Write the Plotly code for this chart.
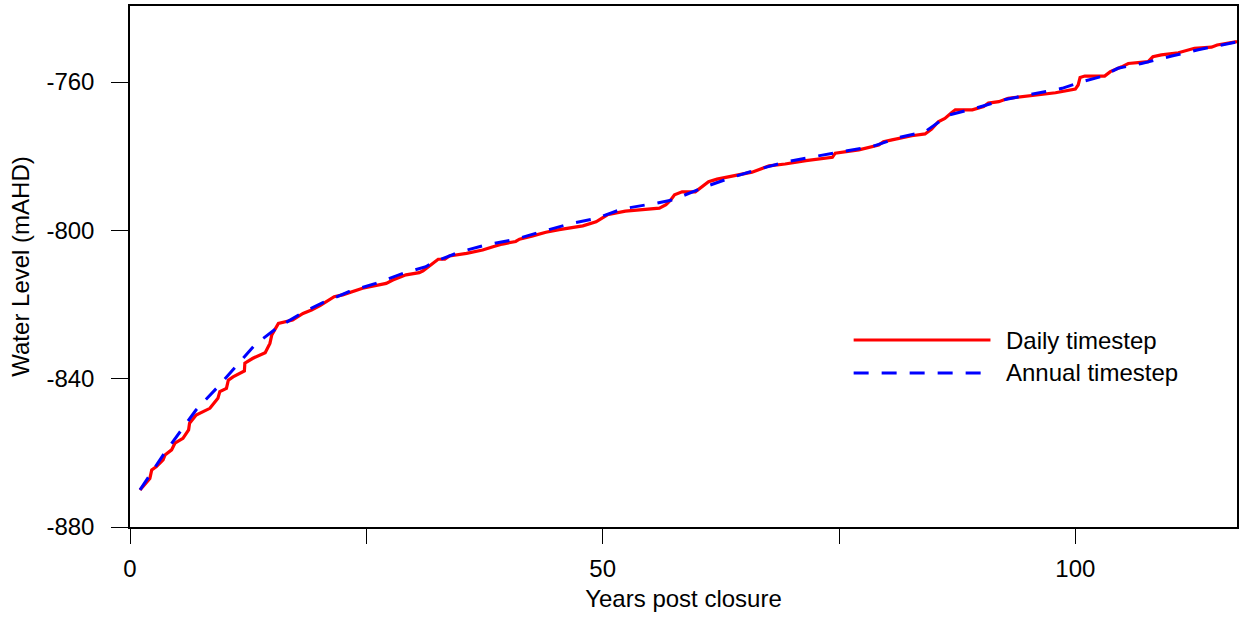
import plotly.graph_objects as go

# Daily timestep series (years post closure, water level mAHD)
daily_years = [1.06, 2.1, 2.3, 2.8, 3.5, 3.7, 4.4, 4.75, 5.6, 6.2, 6.3, 7.0, 8.45, 9.3, 9.5,
               10.2, 10.4, 10.9, 12.1, 12.15, 13.0, 14.3, 14.8, 15.0, 15.7, 17.2, 18.3, 19.2,
               20.1, 21.1, 21.6, 22.5, 24.6, 27.1, 27.8, 29.2, 30.6, 31.0, 32.0, 32.6, 33.3,
               33.8, 35.6, 37.3, 38.4, 39.4, 40.8, 41.2, 42.6, 44.0, 45.4, 47.9, 49.3, 50.5,
               52.4, 56.0, 56.7, 57.2, 57.6, 58.4, 59.8, 60.5, 61.2, 62.1, 64.1, 65.8, 67.6,
               69.3, 71.5, 72.9, 74.3, 74.6, 77.1, 79.2, 79.7, 80.6, 81.3, 82.7, 84.1, 84.8,
               85.5, 86.2, 86.9, 87.3, 89.1, 90.3, 90.8, 91.9, 92.9, 94.7, 96.1, 97.9, 100.0,
               100.3, 100.5, 101.0, 103.1, 103.7, 104.9, 105.6, 107.7, 108.2, 109.1, 110.9,
               112.6, 114.4, 115.0, 117.1]
daily_level = [-870.0, -866.9, -864.6, -863.7, -861.9, -860.6, -859.2, -857.4, -856.1, -853.8,
               -852.0, -849.8, -848.0, -845.3, -843.5, -842.6, -840.4, -839.5, -837.9, -835.8,
               -834.5, -833.0, -830.5, -828.2, -825.1, -824.2, -822.4, -821.5, -820.3, -818.8,
               -817.9, -817.4, -815.6, -814.3, -813.4, -812.0, -811.4, -810.9, -808.9, -807.8,
               -807.8, -806.9, -806.2, -805.3, -804.4, -803.7, -803.0, -802.4, -801.5, -800.5,
               -799.8, -798.8, -797.7, -795.8, -794.8, -794.0, -793.1, -791.8, -790.4, -789.6,
               -789.6, -788.2, -786.9, -786.2, -785.1, -784.3, -782.6, -782.1, -781.2, -780.8,
               -780.3, -779.2, -778.3, -777.0, -776.1, -775.6, -775.2, -774.5, -774.0, -772.7,
               -770.7, -769.8, -768.3, -767.5, -767.5, -766.6, -765.7, -765.3, -764.4, -763.9,
               -763.4, -762.9, -761.9, -760.8, -758.8, -758.4, -758.4, -757.2, -755.9, -755.0,
               -754.5, -753.2, -752.7, -752.1, -750.9, -750.6, -750.0, -749.1]

# Annual timestep series
annual_years = [1.06, 3.5, 7.0, 9.15, 13.2, 15.5, 18.1, 20.4, 23.2, 26.0, 28.9, 31.3, 32.0,
                34.8, 37.7, 40.8, 43.6, 46.6, 49.3, 52.1, 55.6, 57.4, 60.9, 63.7, 66.5, 69.3,
                72.4, 75.3, 78.5, 81.3, 84.1, 86.6, 89.4, 92.6, 95.5, 98.6, 100.7, 102.8,
                104.5, 107.0, 110.2, 113.0, 117.1]
annual_level = [-870.0, -860.6, -848.4, -842.6, -830.9, -826.4, -822.4, -819.5, -816.5, -814.3,
                -811.6, -809.8, -808.7, -805.9, -803.9, -802.4, -800.3, -798.2, -796.8, -794.2,
                -792.7, -791.8, -788.2, -785.7, -783.5, -781.6, -780.1, -778.8, -777.4, -775.0,
                -773.4, -768.9, -767.1, -764.7, -763.3, -761.7, -759.9, -758.5, -756.3, -755.0,
                -753.0, -751.3, -749.2]

x_tickvals = [0, 25, 50, 75, 100]
x_ticktext = ["0", "", "50", "", "100"]
y_tickvals = [-880, -840, -800, -760]
y_ticktext = ["-880", "-840", "-800", "-760"]
series_names = ["Daily timestep", "Annual timestep"]

FONT = "Liberation Sans, Arial, sans-serif"
FS = 24

fig = go.Figure()
fig.add_trace(go.Scatter(x=daily_years, y=daily_level, mode="lines", name=series_names[0],
                         line=dict(color="#ff0000", width=3.2), showlegend=False))
fig.add_trace(go.Scatter(x=annual_years, y=annual_level, mode="lines", name=series_names[1],
                         line=dict(color="#0000ff", width=3, dash="15px,13px"), showlegend=False))

# Manual legend (line samples + labels)
leg_x0, leg_x1, leg_tx = 0.6537, 0.7773, 0.7899
leg_rows = [0.3589, 0.2956]
styles = [dict(color="#ff0000", width=3), dict(color="#0000ff", width=3, dash="15px,13px")]
for name, yy, st in zip(series_names, leg_rows, styles):
    fig.add_shape(type="line", xref="paper", yref="paper", x0=leg_x0, x1=leg_x1, y0=yy, y1=yy,
                  line=st)
    fig.add_annotation(xref="paper", yref="paper", x=leg_tx, y=yy, text=name, showarrow=False,
                       xanchor="left", yanchor="middle", font=dict(size=FS, color="black", family=FONT))

fig.update_layout(
    width=1242, height=619,
    margin=dict(l=130, r=3, t=6, b=92),
    paper_bgcolor="white", plot_bgcolor="white",
    font=dict(family=FONT, size=FS, color="black"),
)
fig.update_xaxes(range=[0, 117.1], tickvals=x_tickvals, ticktext=x_ticktext,
                 ticks="outside", ticklen=15, tickwidth=1, tickcolor="black",
                 showline=True, linecolor="black", linewidth=1.5, mirror=True,
                 showgrid=False, zeroline=False, ticklabelstandoff=4,
                 title=dict(text="Years post closure", standoff=10, font=dict(size=FS)))
fig.update_yaxes(range=[-880, -739.5], tickvals=y_tickvals, ticktext=y_ticktext,
                 ticks="outside", ticklen=17, tickwidth=1, tickcolor="black",
                 showline=True, linecolor="black", linewidth=1.5, mirror=True,
                 showgrid=False, zeroline=False, ticklabelstandoff=12,
                 title=dict(text="Water Level (mAHD)", standoff=10, font=dict(size=FS)))

fig.write_html("out.html")
